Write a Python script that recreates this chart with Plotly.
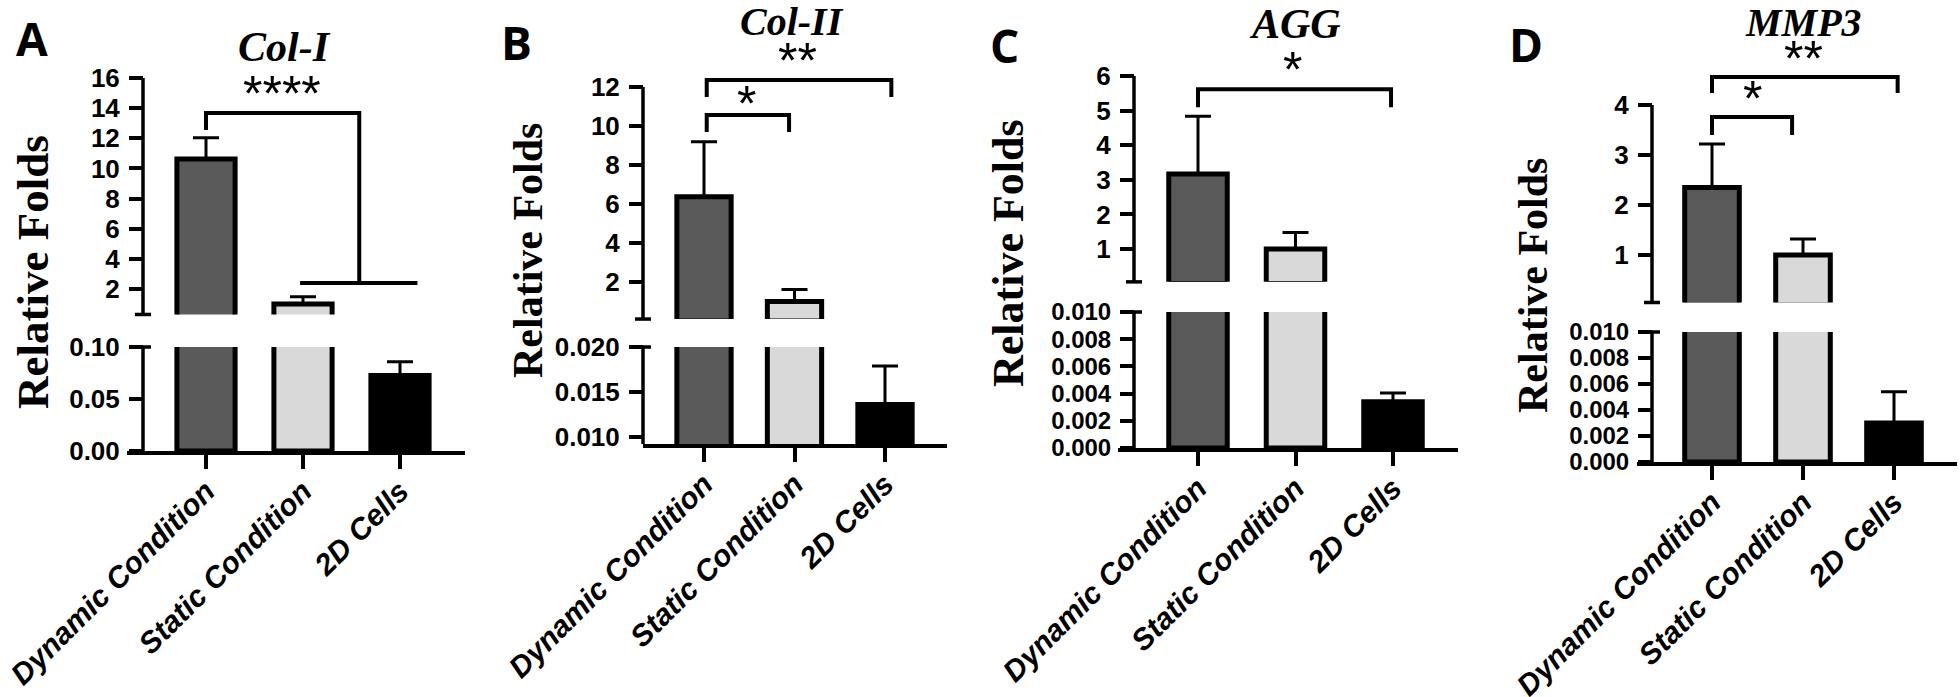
import plotly.graph_objects as go

W, H = 1960, 697

# ---------------- data ----------------
categories = ["Dynamic Condition", "Static Condition", "2D Cells"]
gene_titles = ["Col-I", "Col-II", "AGG", "MMP3"]
panel_letters = ["A", "B", "C", "D"]
y_title = "Relative Folds"

col1_mean = [10.62, 1.0, 0.0726]
col1_sd = [1.42, 0.48, 0.0133]
col2_mean = [6.37, 1.0, 0.0136]
col2_sd = [2.82, 0.62, 0.0043]
agg_mean = [3.17, 1.0, 0.0034]
agg_sd = [1.67, 0.48, 0.00064]
mmp3_mean = [2.35, 1.0, 0.0030]
mmp3_sd = [0.87, 0.32, 0.0024]

upper_ticks_A = [2, 4, 6, 8, 10, 12, 14, 16]
upper_ticks_B = [2, 4, 6, 8, 10, 12]
upper_ticks_C = [1, 2, 3, 4, 5, 6]
upper_ticks_D = [1, 2, 3, 4]
lower_ticks_A = [0.0, 0.05, 0.10]
lower_labels_A = ["0.00", "0.05", "0.10"]
lower_ticks_B = [0.010, 0.015, 0.020]
lower_labels_B = ["0.010", "0.015", "0.020"]
lower_ticks_CD = [0.0, 0.002, 0.004, 0.006, 0.008, 0.010]
lower_labels_CD = ["0.000", "0.002", "0.004", "0.006", "0.008", "0.010"]

# significance brackets (x in category index, y in data units) and labels
sig_A_x = [0, 0, 1.58, 1.58, None, 0.97, 2.18]
sig_A_y = [12.55, 13.68, 13.68, 2.39, None, 2.39, 2.39]
sig_A_labels = [("****", 0.78, 15.4)]
sig_B_x = [0.03, 0.03, 2.07, 2.07, None, 0.03, 0.03, 0.94, 0.94]
sig_B_y = [11.49, 12.36, 12.36, 11.49, None, 9.69, 10.56, 10.56, 9.69]
sig_B_labels = [("**", 1.03, 13.7), ("*", 0.475, 11.5)]
sig_C_x = [0, 0, 1.98, 1.98]
sig_C_y = [5.10, 5.62, 5.62, 5.10]
sig_C_labels = [("*", 0.97, 6.38)]
sig_D_x = [0, 0, 2.04, 2.04, None, 0, 0, 0.88, 0.88]
sig_D_y = [4.24, 4.56, 4.56, 4.24, None, 3.40, 3.76, 3.76, 3.40]
sig_D_labels = [("**", 1.0, 5.06), ("*", 0.44, 4.26)]

bar_colors = ["#5a5a5a", "#d9d9d9", "#000000"]

# ---------------- layout geometry (pixels) ----------------
panels = [
    dict(mean=col1_mean, sd=col1_sd, up_ticks=upper_ticks_A, amax=16,
         lo_ticks=lower_ticks_A, lo_labels=lower_labels_A, lo_range=[0.0, 0.10], lo_font=26,
         sx=sig_A_x, sy=sig_A_y, slab=sig_A_labels,
         x0=127, x1=465, cat0=206, step=97, yax=143,
         y0px=319, ppu=15.06, r0=0.3, lo_bot=451, lo_top=347,
         letter_xy=(32, 42), title_xy=(284, 47), title_size=42,
         ytitle_xy=(33, 272), ytitle_size=45),
    dict(mean=col2_mean, sd=col2_sd, up_ticks=upper_ticks_B, amax=12,
         lo_ticks=lower_ticks_B, lo_labels=lower_labels_B, lo_range=[0.00922, 0.020], lo_font=26,
         sx=sig_B_x, sy=sig_B_y, slab=sig_B_labels,
         x0=643, x1=947, cat0=704, step=90.5, yax=643,
         y0px=321, ppu=19.5, r0=0.1, lo_bot=444, lo_top=347,
         letter_xy=(516, 46), title_xy=(792, 21), title_size=40,
         ytitle_xy=(528, 251), ytitle_size=42),
    dict(mean=agg_mean, sd=agg_sd, up_ticks=upper_ticks_C, amax=6,
         lo_ticks=lower_ticks_CD, lo_labels=lower_labels_CD, lo_range=[0.0, 0.010], lo_font=24,
         sx=sig_C_x, sy=sig_C_y, slab=sig_C_labels,
         x0=1118, x1=1458, cat0=1198, step=97.5, yax=1134,
         y0px=283.6, ppu=34.6, r0=0.05, lo_bot=448, lo_top=312,
         letter_xy=(1004, 49), title_xy=(1295, 24), title_size=42,
         ytitle_xy=(1008, 253), ytitle_size=44),
    dict(mean=mmp3_mean, sd=mmp3_sd, up_ticks=upper_ticks_D, amax=4,
         lo_ticks=lower_ticks_CD, lo_labels=lower_labels_CD, lo_range=[0.0, 0.010], lo_font=24,
         sx=sig_D_x, sy=sig_D_y, slab=sig_D_labels,
         x0=1637, x1=1957, cat0=1712, step=91, yax=1652,
         y0px=305, ppu=50, r0=0.05, lo_bot=462, lo_top=332,
         letter_xy=(1526, 48), title_xy=(1803, 22), title_size=40,
         ytitle_xy=(1533, 286), ytitle_size=42),
]

TOP_PX = 40
AXW = 3.5


def px_x(p):
    return p / W


def px_y(p):
    return 1 - p / H


def ref(n, letter):
    return letter if n == 1 else f"{letter}{n}"


def axkey(n, letter):
    return f"{letter}axis" if n == 1 else f"{letter}axis{n}"


fig = go.Figure()
layout = {}
shapes = []
annotations = []

for i, p in enumerate(panels):
    nu, nl = 2 * i + 1, 2 * i + 2
    xr = [(p["x0"] - p["cat0"]) / p["step"], (p["x1"] - p["cat0"]) / p["step"]]
    xdom = [px_x(p["x0"]), px_x(p["x1"])]
    up_bot_px = p["y0px"] - p["r0"] * p["ppu"]
    up_dom = [px_y(up_bot_px), px_y(TOP_PX)]
    up_rng = [p["r0"], (p["y0px"] - TOP_PX) / p["ppu"]]
    lo_dom = [px_y(p["lo_bot"]), px_y(p["lo_top"])]
    lo_rng = p["lo_range"]
    xpos = [0, 1, 2]

    for n, rng in ((nu, up_rng), (nl, lo_rng)):
        # bars whose top lies below this segment are not outlined there
        lw = [5 if v > rng[0] else 0 for v in p["mean"]]
        fig.add_trace(go.Bar(
            x=xpos, y=p["mean"], width=0.6,
            marker=dict(color=bar_colors, line=dict(color="black", width=lw)),
            error_y=dict(type="data", array=p["sd"], arrayminus=[0] * len(p["sd"]),
                         symmetric=False, color="black", thickness=3, width=13),
            xaxis=ref(n, "x"), yaxis=ref(n, "y"), showlegend=False, hoverinfo="skip",
        ))

    # significance bracket lines
    fig.add_trace(go.Scatter(
        x=p["sx"], y=p["sy"], mode="lines", line=dict(color="black", width=4),
        xaxis=ref(nu, "x"), yaxis=ref(nu, "y"), showlegend=False, hoverinfo="skip",
        connectgaps=False,
    ))
    for txt, lx, ly in p["slab"]:
        annotations.append(dict(
            text=txt, x=lx, y=ly, xref=ref(nu, "x"), yref=ref(nu, "y"),
            showarrow=False, xanchor="center", yanchor="middle", yshift=-7,
            font=dict(family="Liberation Sans, Arial", size=50, color="black"),
        ))

    # axes
    layout[axkey(nu, "x")] = dict(domain=xdom, range=xr, visible=False,
                                 anchor=ref(nu, "y"), fixedrange=True)
    layout[axkey(nl, "x")] = dict(
        domain=xdom, range=xr, anchor=ref(nl, "y"), showline=True, linewidth=AXW,
        linecolor="black", ticks="outside", ticklen=14, tickwidth=AXW, tickcolor="black",
        tickvals=xpos, ticktext=categories, tickangle=-45, showgrid=False, zeroline=False,
        tickfont=dict(family="Liberation Sans, Arial", size=30, color="black",
                      weight="bold", style="italic"),
        ticklabelstandoff=-7, ticklabelshift=0, ticklabeloverflow="allow",
        automargin=False, fixedrange=True,
    )
    common_y = dict(anchor="free", position=px_x(p["yax"]), showline=False, showgrid=False,
                    zeroline=False, ticks="outside", ticklen=14, tickwidth=AXW,
                    tickcolor="black", automargin=False, ticklabeloverflow="allow",
                    fixedrange=True, ticklabelstandoff=4)
    layout[axkey(nu, "y")] = dict(domain=up_dom, range=up_rng, tickvals=p["up_ticks"],
                                 ticktext=[str(v) for v in p["up_ticks"]],
                                 tickfont=dict(family="Liberation Sans, Arial", size=26,
                                               color="black", weight="bold"),
                                 **common_y)
    layout[axkey(nl, "y")] = dict(domain=lo_dom, range=lo_rng, tickvals=p["lo_ticks"],
                                 ticktext=p["lo_labels"],
                                 tickfont=dict(family="Liberation Sans, Arial", size=p["lo_font"],
                                               color="black", weight="bold"),
                                 **common_y)

    # y-axis spines and break marks
    shapes.append(dict(type="line", xref="paper", yref=ref(nu, "y"),
                       x0=px_x(p["yax"]), x1=px_x(p["yax"]), y0=p["r0"], y1=p["amax"],
                       line=dict(color="black", width=AXW)))
    shapes.append(dict(type="line", xref="paper", yref=ref(nl, "y"),
                       x0=px_x(p["yax"]), x1=px_x(p["yax"]), y0=lo_rng[0], y1=lo_rng[1],
                       line=dict(color="black", width=AXW)))
    for ypx in (up_bot_px, p["lo_top"]):
        shapes.append(dict(type="line", xref="paper", yref="paper",
                           x0=px_x(p["yax"] - 8), x1=px_x(p["yax"] + 8),
                           y0=px_y(ypx), y1=px_y(ypx),
                           line=dict(color="black", width=AXW)))

    # panel letter, gene title, y-axis title
    lx, ly = p["letter_xy"]
    annotations.append(dict(text=panel_letters[i], x=px_x(lx), y=px_y(ly), xref="paper",
                            yref="paper", showarrow=False, xanchor="center", yanchor="middle",
                            yshift=4,
                            font=dict(family="Open Sans, Liberation Sans", size=46,
                                      color="black", weight="bold")))
    tx, ty = p["title_xy"]
    annotations.append(dict(text=gene_titles[i], x=px_x(tx), y=px_y(ty), xref="paper",
                            yref="paper", showarrow=False, xanchor="center", yanchor="middle",
                            font=dict(family="Liberation Serif, Times New Roman",
                                      size=p["title_size"], color="black", weight="bold",
                                      style="italic")))
    yx, yy = p["ytitle_xy"]
    annotations.append(dict(text=y_title, x=px_x(yx), y=px_y(yy), xref="paper",
                            yref="paper", showarrow=False, xanchor="center", yanchor="middle",
                            textangle=-90,
                            font=dict(family="Liberation Serif, Times New Roman",
                                      size=p["ytitle_size"], color="black", weight="bold")))

fig.update_layout(
    width=W, height=H, margin=dict(l=0, r=0, t=0, b=0),
    paper_bgcolor="white", plot_bgcolor="white",
    barmode="overlay", showlegend=False,
    shapes=shapes, annotations=annotations, **layout,
)

fig.write_html("out.html", config={"displayModeBar": False},
               post_script="document.body.style.margin='0';document.body.style.padding='0';")
